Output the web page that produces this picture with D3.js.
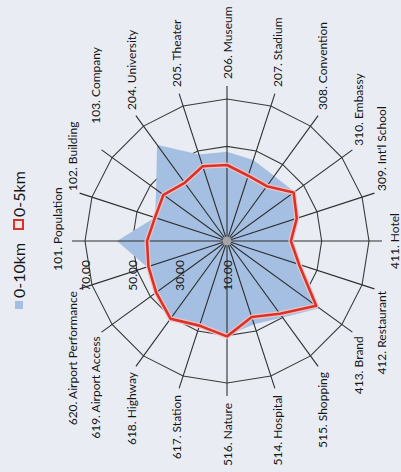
<!DOCTYPE html>
<html>
<head>
<meta charset="utf-8">
<script src="https://cdn.jsdelivr.net/npm/d3@7"></script>
<style>
  html, body { margin: 0; padding: 0; background: #e9edf3; }
  svg { display: block; }
  text { font-family: Lato, "Open Sans", sans-serif; fill: #161616; }
</style>
</head>
<body>
<svg id="chart" width="401" height="472"></svg>
<script>
// Radar categories, clockwise from the first axis
const categories = [
  "101. Population", "102. Building", "103. Company", "204. University",
  "205. Theater", "206. Museum", "207. Stadium", "308. Convention",
  "310. Embassy", "309. Int'l School", "411. Hotel", "412. Restaurant",
  "413. Brand", "515. Shopping", "514. Hospital", "516. Nature",
  "617. Station", "618. Highway", "619. Airport Access", "620. Airport Performance"
];

// Scores within 10 km
const tenKm = [
  56.5, 42.0, 47.0, 60.3, 48.4, 47.7, 46.0, 44.0, 45.3, 42.3,
  38.0, 43.0, 58.3, 50.0, 47.0, 50.0, 47.0, 50.0, 46.0, 45.5
];

// Scores within 5 km
const fiveKm = [
  43.8, 42.0, 43.2, 40.4, 43.2, 42.1, 39.0, 38.6, 44.8, 41.0,
  37.0, 42.0, 56.6, 48.0, 43.8, 50.3, 47.6, 50.6, 47.0, 44.9
];

const ringTicks = [10, 30, 50, 70];
const seriesNames = ["0-10km", "0-5km"];

const W = 401, H = 472;
const cx = 227, cy = 241;
const outerR = 142;
const spokeR = 155;
const labelR = 162;
// a couple of labels sit a little further along to clear their neighbours
const labelShift = { 0: 12, 2: 22 };

const svg = d3.select("#chart");
svg.append("rect").attr("width", W).attr("height", H).attr("fill", "#e9edf3");

const r = d3.scaleLinear().domain([10, 70]).range([0, outerR]);
const angle = d3.scaleLinear().domain([0, categories.length]).range([0, 2 * Math.PI]);

// The radar is built upright and turned a quarter turn counter-clockwise
const g = svg.append("g").attr("transform", `translate(${cx},${cy}) rotate(-90)`);

const polar = (a, rad) => [rad * Math.sin(a), -rad * Math.cos(a)];

const radial = d3.lineRadial()
  .angle((d, i) => angle(i))
  .radius(d => r(d))
  .curve(d3.curveLinearClosed);

// grid rings
g.append("g").selectAll("path")
  .data(ringTicks.filter(t => t > 10))
  .join("path")
  .attr("d", t => radial(categories.map(() => t)))
  .attr("fill", "none")
  .attr("stroke", "#3a3a3a")
  .attr("stroke-width", 1.1);

// 0-10km filled area
g.append("path")
  .attr("d", radial(tenKm))
  .attr("fill", "#a4bfe2")
  .attr("stroke", "none");

// spokes
g.append("g").selectAll("line")
  .data(categories)
  .join("line")
  .attr("x1", 0).attr("y1", 0)
  .attr("x2", (d, i) => polar(angle(i), spokeR)[0])
  .attr("y2", (d, i) => polar(angle(i), spokeR)[1])
  .attr("stroke", "#2e2e2e")
  .attr("stroke-width", 1.1);

g.append("circle").attr("r", 4.5).attr("fill", "#a5a5a8");

// 0-5km outline
g.append("path")
  .attr("d", radial(fiveKm))
  .attr("fill", "none")
  .attr("stroke", "#f2c4c1")
  .attr("stroke-width", 5)
  .attr("stroke-linejoin", "round");
g.append("path")
  .attr("d", radial(fiveKm))
  .attr("fill", "none")
  .attr("stroke", "#d8322b")
  .attr("stroke-width", 2.6)
  .attr("stroke-linejoin", "round");

// value labels along the first axis
g.append("g").selectAll("text")
  .data(ringTicks)
  .join("text")
  .attr("x", -19)
  .attr("y", t => -r(t))
  .attr("text-anchor", "end")
  .attr("dominant-baseline", "central")
  .attr("font-size", 12)
  .text(t => d3.format(".2f")(t));

// category labels
g.append("g").selectAll("text")
  .data(categories)
  .join("text")
  .attr("x", (d, i) => polar(angle(i), labelR)[0] + (labelShift[i] || 0))
  .attr("y", (d, i) => polar(angle(i), labelR)[1])
  .attr("text-anchor", (d, i) => {
    const s = Math.sin(angle(i));
    return s > 0.01 ? "start" : s < -0.01 ? "end" : "middle";
  })
  .attr("dominant-baseline", (d, i) => {
    const c = Math.cos(angle(i));
    return c > 0.99 ? "text-after-edge" : c < -0.99 ? "hanging" : "central";
  })
  .attr("font-size", 12)
  .text(d => d);

// legend
const legend = svg.append("g");
const colors = ["#a4bfe2", "#d8322b"];
const legendY = [298, 217];
seriesNames.forEach((name, k) => {
  if (k === 0) {
    legend.append("rect")
      .attr("x", 15).attr("y", legendY[k] + 3).attr("width", 8).attr("height", 8)
      .attr("fill", colors[0]);
  } else {
    legend.append("rect")
      .attr("x", 14).attr("y", legendY[k] + 3).attr("width", 9).attr("height", 9)
      .attr("fill", "#f3e6e6").attr("stroke", colors[1]).attr("stroke-width", 2);
  }
  legend.append("text")
    .attr("transform", `translate(25,${legendY[k]}) rotate(-90)`)
    .attr("font-size", 16)
    .text(name);
});
</script>
</body>
</html>
